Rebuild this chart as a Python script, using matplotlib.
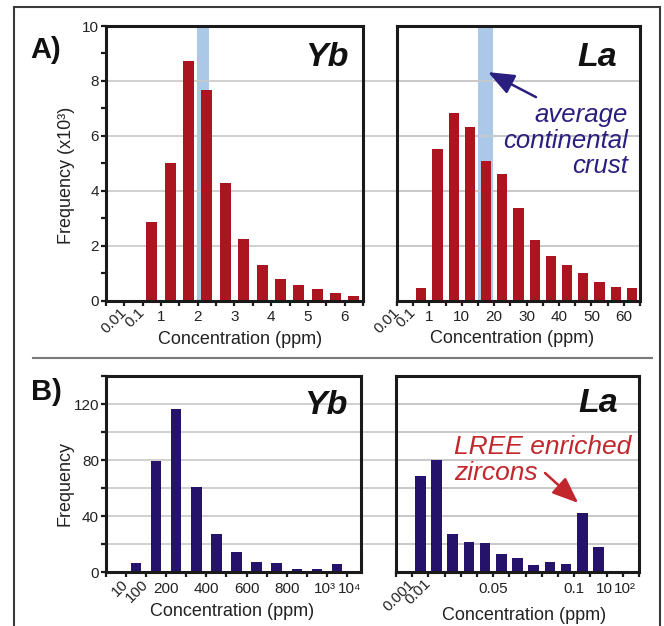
import matplotlib
matplotlib.use('Agg')
import matplotlib.pyplot as plt
from matplotlib.patches import Rectangle
from matplotlib.lines import Line2D
from matplotlib.transforms import ScaledTranslation

plt.rcParams['font.family'] = ['Liberation Sans', 'DejaVu Sans']

# ---------------- data ----------------
# A) detrital/whole-rock compilation, frequency (x10^3) per concentration bin
yb_a_ticklabels = ['', '0.01', '0.1', '1', '', '2', '', '3', '', '4', '', '5', '', '6', '']
yb_a_freq = [0, 0, 2.85, 5.0, 8.72, 7.66, 4.27, 2.23, 1.28, 0.78, 0.55, 0.41, 0.26, 0.18]
yb_a_rotated = ['0.01', '0.1']
yb_a_crust_bin = (4.95, 5.6)

la_a_ticklabels = ['0.01', '0.1', '1', '', '10', '', '20', '', '30', '', '40', '', '50', '', '60', '']
la_a_freq = [0, 0.45, 5.52, 6.84, 6.33, 5.07, 4.6, 3.37, 2.19, 1.64, 1.28, 0.99, 0.69, 0.51, 0.45]
la_a_rotated = ['0.01', '0.1']
la_a_crust_bin = (5.0, 5.94)

# B) zircon compilation, frequency per concentration bin
yb_b_ticklabels = ['', '10', '100', '200', '', '400', '', '600', '', '800', '', '10³', '10⁴']
yb_b_freq = [0, 6.4, 79.5, 116.2, 60.8, 27.5, 14, 6.9, 6.4, 1.9, 1.9, 5.4]
yb_b_rotated = ['10', '100']

la_b_ticklabels = ['', '0.001', '0.01', '', '', '', '0.05', '', '', '', '', '0.1', '', '10', '10²', '']
la_b_freq = [0.8, 68.9, 79.7, 27.3, 21.5, 20.8, 12.9, 10, 5.3, 7.2, 5.7, 42.3, 17.9, 0.8, 0]
la_b_rotated = ['0.001', '0.01']

# ---------------- style ----------------
RED = '#ab1520'
NAVY = '#24126b'
BAND = '#acc8e8'
GRID = '#c8c8c8'
SPINE = '#1a1a1a'
ARROW_NAVY = '#2a1f7e'
TEXT_RED = '#c1272d'
ARROWSTYLE = '-|>,head_length=0.8,head_width=0.32'

W, H = 664, 626
fig = plt.figure(figsize=(W / 100, H / 100), dpi=100)


def px_axes(l, t, r, b):
    return fig.add_axes([l / W, 1 - b / H, (r - l) / W, (b - t) / H], facecolor='none')


ax_ya = px_axes(106, 26, 363, 300.6)
ax_la = px_axes(397, 26, 640, 300.6)
ax_yb = px_axes(106, 376, 361, 572)
ax_lb = px_axes(396, 376, 639, 572)


def style(ax, xmax, ticklabels, rotated, ylim, grid_vals, extend_to=None, shifts=None):
    ax.set_xlim(0, xmax)
    ax.set_ylim(0, ylim)
    for s in ax.spines.values():
        s.set_linewidth(2.2)
        s.set_color(SPINE)
        s.set_zorder(5)
    ax.set_xticks(range(len(ticklabels)))
    ax.set_xticklabels(ticklabels)
    ax.tick_params(axis='x', direction='out', length=3.5, width=1.6, color=SPINE,
                   labelsize=11, labelcolor='#222222', pad=3.5)
    shifts = shifts or {}
    for lab in ax.get_xticklabels():
        t = lab.get_text()
        if t in rotated:
            lab.set_rotation(45)
            lab.set_rotation_mode('anchor')
            lab.set_ha('right')
            lab.set_va('center')
        if t in shifts:
            lab.set_transform(lab.get_transform() +
                              ScaledTranslation(shifts[t] / 100, 0, fig.dpi_scale_trans))
    for g in grid_vals:
        ax.axhline(g, color=GRID, lw=1.2, zorder=1)
        if extend_to is not None:
            ax.axhline(g, xmin=1, xmax=extend_to, color=GRID, lw=1.2, zorder=1, clip_on=False)


def bars(ax, freq, width, color):
    x = [i + 0.5 for i in range(len(freq))]
    ax.bar(x, freq, width=width, color=color, zorder=2, linewidth=0)


# --- A) Yb ---
style(ax_ya, 14, yb_a_ticklabels, yb_a_rotated, 10, [2, 4, 6, 8],
      extend_to=(640 - 106) / (363 - 106))
ax_ya.axvspan(*yb_a_crust_bin, color=BAND, zorder=0.5, lw=0)
bars(ax_ya, yb_a_freq, 0.6, RED)
ax_ya.set_yticks([0, 2, 4, 6, 8, 10])
ax_ya.set_yticks([1, 3, 5, 7, 9], minor=True)
ax_ya.tick_params(axis='y', which='both', direction='out', length=3.5, width=1.6,
                  color=SPINE, labelsize=11, labelcolor='#222222', pad=1.5)
ax_ya.set_ylabel('Frequency (x10³)', fontsize=13, color='#222222')
ax_ya.yaxis.set_label_coords(-0.121, 0.457)
ax_ya.set_xlabel('Concentration (ppm)', fontsize=13, color='#222222')
ax_ya.xaxis.set_label_coords(0.521, -0.111)
ax_ya.text(0.942, 0.887, 'Yb', transform=ax_ya.transAxes, ha='right', va='center',
           fontsize=24.5, fontweight='bold', fontstyle='italic', color='#111111')

# --- A) La ---
style(ax_la, 15, la_a_ticklabels, la_a_rotated, 10, [2, 4, 6, 8])
ax_la.axvspan(*la_a_crust_bin, color=BAND, zorder=0.5, lw=0)
bars(ax_la, la_a_freq, 0.62, RED)
ax_la.set_yticks([])
ax_la.set_xlabel('Concentration (ppm)', fontsize=13, color='#222222')
ax_la.xaxis.set_label_coords(0.472, -0.107)
ax_la.text(0.907, 0.887, 'La', transform=ax_la.transAxes, ha='right', va='center',
           fontsize=24.5, fontweight='bold', fontstyle='italic', color='#111111')
ax_la.text(14.26, 5.83, 'average\ncontinental\ncrust', ha='right', va='center',
           fontsize=18.5, fontstyle='italic', color=ARROW_NAVY, linespacing=1.09, zorder=6)
ax_la.annotate('', xy=(5.62, 8.32), xytext=(8.58, 7.41),
               arrowprops=dict(arrowstyle=ARROWSTYLE, color=ARROW_NAVY, lw=1.8,
                               mutation_scale=20, shrinkA=0, shrinkB=0), zorder=6)

# --- B) Yb ---
style(ax_yb, 12.7, yb_b_ticklabels, yb_b_rotated, 140, [20, 40, 60, 80, 100, 120],
      extend_to=(639 - 106) / (361 - 106), shifts={'10³': -2, '10⁴': 2.5})
bars(ax_yb, yb_b_freq, 0.52, NAVY)
ax_yb.set_yticks([0, 40, 80, 120])
ax_yb.set_yticks([20, 60, 100, 140], minor=True)
ax_yb.tick_params(axis='y', which='both', direction='out', length=3.5, width=1.6,
                  color=SPINE, labelsize=11, labelcolor='#222222', pad=1.5)
ax_yb.set_ylabel('Frequency', fontsize=13, color='#222222')
ax_yb.yaxis.set_label_coords(-0.129, 0.454)
ax_yb.set_xlabel('Concentration (ppm)', fontsize=13, color='#222222')
ax_yb.xaxis.set_label_coords(0.496, -0.158)
ax_yb.text(0.949, 0.852, 'Yb', transform=ax_yb.transAxes, ha='right', va='center',
           fontsize=24.5, fontweight='bold', fontstyle='italic', color='#111111')

# --- B) La ---
style(ax_lb, 15, la_b_ticklabels, la_b_rotated, 140, [20, 40, 60, 80, 100, 120],
      shifts={'10': -2.5, '10²': 2.5})
bars(ax_lb, la_b_freq, 0.66, NAVY)
ax_lb.set_yticks([])
ax_lb.set_xlabel('Concentration (ppm)', fontsize=13, color='#222222')
ax_lb.xaxis.set_label_coords(0.527, -0.177)
ax_lb.text(0.914, 0.862, 'La', transform=ax_lb.transAxes, ha='right', va='center',
           fontsize=24.5, fontweight='bold', fontstyle='italic', color='#111111')
ax_lb.text(3.58, 80, 'LREE enriched\nzircons', ha='left', va='center',
           fontsize=19, fontstyle='italic', color=TEXT_RED, linespacing=1.07, zorder=6)
ax_lb.annotate('', xy=(11.25, 49.3), xytext=(9.2, 70.7),
               arrowprops=dict(arrowstyle=ARROWSTYLE, color=TEXT_RED, lw=1.8,
                               mutation_scale=20, shrinkA=0, shrinkB=0), zorder=6)

# --- panel letters, frame, separator ---
fig.text(46 / W, 1 - 50 / H, 'A)', ha='center', va='center', fontsize=21,
         fontweight='bold', color='#111111')
fig.text(46 / W, 1 - 392 / H, 'B)', ha='center', va='center', fontsize=21,
         fontweight='bold', color='#111111')
fig.patches.append(Rectangle((14 / W, -0.05), (660 - 14) / W, 1 - 7 / H + 0.05,
                             transform=fig.transFigure, fill=False, lw=1.5,
                             ec='#3a3a3a', clip_on=False))
fig.lines.append(Line2D([33 / W, 652 / W], [1 - 358 / H] * 2, transform=fig.transFigure,
                        color='#7a7a7a', lw=1.5))

fig.savefig('out.png', dpi=100)
